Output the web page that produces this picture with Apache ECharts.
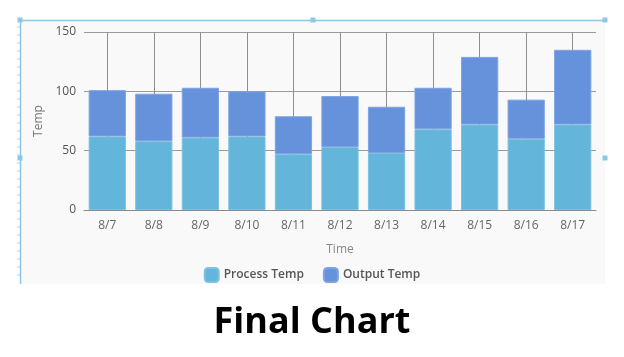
<!DOCTYPE html>
<html>
<head>
<meta charset="utf-8">
<script src="https://cdn.jsdelivr.net/npm/echarts@6/dist/echarts.min.js"></script>
<style>html,body{margin:0;padding:0;background:#fff;}#c{width:624px;height:357px;}</style>
</head>
<body>
<div id="c"></div>
<script>
const categories = ['8/7','8/8','8/9','8/10','8/11','8/12','8/13','8/14','8/15','8/16','8/17'];
const processTemp = [62, 58, 61, 62, 47, 53, 48, 68, 72, 60, 72];
const outputTemp = [39, 40, 42, 38, 32, 43, 39, 35, 57, 33, 63];
const yTicks = { min: 0, max: 150, interval: 50 };

const font = 'Open Sans';
const ruler = [];
for (let y = 27; y < 283; y += 8) {
  ruler.push({ type: 'line', z: -1, shape: { x1: 17, y1: y, x2: 21, y2: y }, style: { stroke: '#a9d6e8', lineWidth: 1 } });
}
const handles = [[20,20],[313,20],[605,20],[20,158],[605,158]].map(p => ({
  type: 'rect', z: 5, shape: { x: p[0] - 2.5, y: p[1] - 2.5, width: 5, height: 5 }, style: { fill: '#8cc8e4' }
}));

const chart = echarts.init(document.getElementById('c'), null, { renderer: 'canvas' });
chart.setOption({
  backgroundColor: '#ffffff',
  animation: false,
  textStyle: { fontFamily: font },
  graphic: {
    elements: [
      { type: 'rect', z: -2, shape: { x: 21, y: 21, width: 584, height: 263 }, style: { fill: '#f9f9f9' } },
      { type: 'line', z: 4, shape: { x1: 20.5, y1: 20.5, x2: 605, y2: 20.5 }, style: { stroke: '#8cc8e4', lineWidth: 1.5 } },
      { type: 'line', z: 4, shape: { x1: 20.5, y1: 20.5, x2: 20.5, y2: 284 }, style: { stroke: '#8cc8e4', lineWidth: 1.5 } }
    ].concat(ruler, handles)
  },
  title: {
    text: 'Final Chart',
    left: 'center',
    top: 300,
    textStyle: { fontFamily: font, fontSize: 36, fontWeight: 'bold', color: '#000' }
  },
  grid: { left: 84, right: 28, top: 32, bottom: 147, containLabel: false },
  legend: {
    data: ['Process Temp', 'Output Temp'],
    left: 'center',
    top: 262,
    itemWidth: 14,
    itemHeight: 14,
    itemGap: 19,
    icon: 'roundRect',
    textStyle: { fontFamily: font, fontSize: 12, fontWeight: 600, color: '#555' }
  },
  xAxis: {
    type: 'category',
    data: categories,
    name: 'Time',
    nameLocation: 'middle',
    nameGap: 34,
    nameTextStyle: { fontFamily: font, fontSize: 12, color: '#888' },
    axisLine: { lineStyle: { color: '#8a8a8a', width: 1 } },
    axisTick: { show: false },
    axisLabel: { fontFamily: font, fontSize: 12, color: '#666', margin: 10 },
    splitLine: { show: true, alignWithLabel: true, lineStyle: { color: '#8f8f8f', width: 1 } }
  },
  yAxis: {
    type: 'value',
    min: yTicks.min,
    max: yTicks.max,
    interval: yTicks.interval,
    name: 'Temp',
    nameLocation: 'middle',
    nameGap: 30,
    nameTextStyle: { fontFamily: font, fontSize: 12, color: '#777' },
    axisLine: { show: false },
    axisTick: { show: false },
    axisLabel: { fontFamily: font, fontSize: 12, color: '#555', margin: 8 },
    splitLine: { show: true, lineStyle: { color: '#9a9a9a', width: 1 } }
  },
  series: [
    {
      name: 'Process Temp', type: 'bar', stack: 'total', data: processTemp, barCategoryGap: '20%',
      itemStyle: { color: '#63b5da', borderColor: '#7cc2e2', borderWidth: 1 }
    },
    {
      name: 'Output Temp', type: 'bar', stack: 'total', data: outputTemp, barCategoryGap: '20%',
      itemStyle: { color: '#6592db', borderColor: '#7da3e2', borderWidth: 1 }
    }
  ]
});
</script>
</body>
</html>
